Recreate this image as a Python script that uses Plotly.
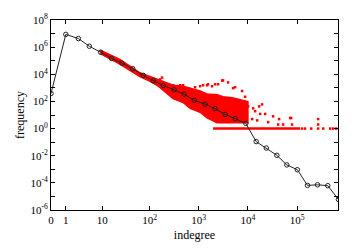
import plotly.graph_objects as go

# ---- data ----
# log-binned distribution (black line); indegree, frequency
bin_indegree = [0, 1, 2.6, 5, 9.2, 16, 26.7, 44.7, 74, 119, 190, 315, 502, 814,
                1349, 2139, 3449, 5500, 9060, 14700, 23600, 38700, 61700,
                101000, 162000, 259000, 419000, 690000]
bin_freq = [380, 8.7e6, 4.3e6, 1.17e6, 4.2e5, 1.48e5, 6.6e4, 2.6e4, 8300, 3300,
            1480, 720, 340, 120, 63, 30, 11, 5.5, 2.4, 0.11, 0.037, 0.0107,
            0.0021, 9.3e-4, 6.5e-5, 7.2e-5, 6.2e-5, 6e-6]

# dense cloud of raw counts (red): envelope per indegree
cloud_indegree = [9, 24, 63, 102, 142, 207, 301, 482, 669, 1067, 1480, 2366, 3130, 4770, 6940, 10000]
cloud_high = [5.9e5, 1.26e5, 1.29e4, 6700, 4120, 2530, 1550, 1320, 950, 585, 358, 305, 220, 187, 135, 97]
cloud_low = [3.35e5, 5.6e4, 6700, 2980, 1550, 500, 159, 83, 31, 16, 6.1, 2.7, 2.7, 2.7, 2.7, 2.7]

# scattered raw points outside the dense cloud
out_indegree = [3130, 2150, 2480, 5000, 1480, 7620, 1070, 845, 480, 670, 19400, 12800,
                17700, 22400, 32500, 43000, 72100, 267000, 267000, 79000, 51900, 25800,
                15400, 12200, 14000, 10100, 16900, 41100, 75500, 1230, 1550, 2990, 5490,
                163, 179, 301, 418, 3960, 1870, 8770]
out_count = [3500, 1830, 1830, 950, 1550, 585, 1320, 1120, 1550, 810, 60, 31,
             12, 12, 8, 5, 6, 5, 2, 2, 2, 3,
             4, 5, 19, 43, 43, 2, 6, 1550, 1830, 3500, 1120,
             4120, 5700, 1550, 1550, 2530, 1320, 220]

# run of count = 1 (continuous) and isolated count = 1 points
ones_run = [1960, 115000]
ones_isolated = [126000, 145000, 193000, 267000, 338000, 469000, 539000, 621000]

# axis ticks
x_tick_indegree = [0, 1, 10, 100, 1000, 10000, 100000]
x_tick_text = ["0", "1", "10", "10<sup>2</sup>", "10<sup>3</sup>", "10<sup>4</sup>", "10<sup>5</sup>"]
y_tick_exp = list(range(-6, 9))

RED = "#ff0000"
fig = go.Figure()

poly_x = [k + 1 for k in cloud_indegree] + [k + 1 for k in reversed(cloud_indegree)]
poly_y = cloud_high + list(reversed(cloud_low))
fig.add_trace(go.Scatter(x=poly_x, y=poly_y, mode="lines", fill="toself",
                         fillcolor=RED, line=dict(color=RED, width=1.5),
                         hoverinfo="skip"))
fig.add_trace(go.Scatter(x=[k + 1 for k in ones_run], y=[1] * len(ones_run), mode="lines",
                         line=dict(color=RED, width=2.5)))
fig.add_trace(go.Scatter(x=[k + 1 for k in ones_isolated], y=[1] * len(ones_isolated),
                         mode="markers", marker=dict(symbol="square", size=2.5, color=RED)))
fig.add_trace(go.Scatter(x=[k + 1 for k in out_indegree], y=out_count, mode="markers",
                         marker=dict(symbol="square", size=2.5, color=RED)))
fig.add_trace(go.Scatter(x=[k + 1 for k in bin_indegree], y=bin_freq, mode="lines+markers",
                         line=dict(color="#222222", width=1),
                         marker=dict(symbol="circle-open", size=4.5,
                                     line=dict(color="#222222", width=1))))

tick_font = dict(family="Liberation Serif, Times New Roman, serif", size=11, color="black")
title_font = dict(family="Liberation Serif, Times New Roman, serif", size=12, color="black")
fig.update_layout(
    width=360, height=252, showlegend=False,
    margin=dict(l=51, r=22, t=15, b=39),
    paper_bgcolor="white", plot_bgcolor="white", font=tick_font,
    xaxis=dict(type="log", range=[0, 5.83],
               tickvals=[k + 1 for k in x_tick_indegree], ticktext=x_tick_text,
               ticks="inside", ticklen=4, tickcolor="black", showgrid=False,
               zeroline=False, showline=True, linecolor="black", linewidth=1,
               mirror="ticks", tickfont=tick_font,
               title=dict(text="indegree", standoff=5, font=title_font)),
    yaxis=dict(type="log", range=[-6, 8],
               tickvals=[10.0 ** e for e in y_tick_exp],
               ticktext=[("10<sup>%d</sup>" % e) if e % 2 == 0 else "" for e in y_tick_exp],
               ticks="inside", ticklen=4, tickcolor="black", showgrid=False,
               zeroline=False, showline=True, linecolor="black", linewidth=1,
               mirror="ticks", tickfont=tick_font,
               title=dict(text="frequency", standoff=3, font=title_font)),
)

fig.write_html("out.html")
